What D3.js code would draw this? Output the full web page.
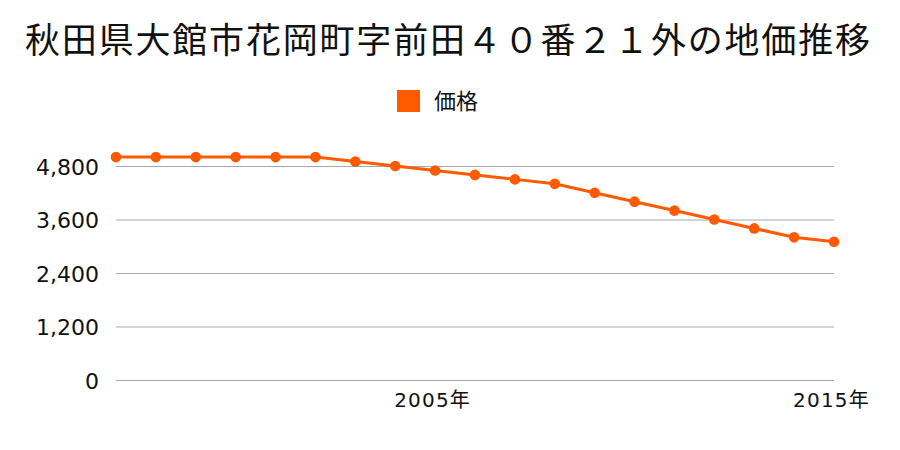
<!DOCTYPE html>
<html><head><meta charset="utf-8">
<script src="https://cdn.jsdelivr.net/npm/d3@7"></script>
<style>body{margin:0;background:#fff;} text{font-family:"Noto Sans CJK JP","Noto Sans",sans-serif;}</style>
</head><body>
<svg id="c" width="900" height="450"></svg>
<script>
const title = "秋田県大館市花岡町字前田４０番２１外の地価推移";
const seriesName = "価格";
const years = [1997,1998,1999,2000,2001,2002,2003,2004,2005,2006,2007,2008,2009,2010,2011,2012,2013,2014,2015];
const prices = [5000,5000,5000,5000,5000,5000,4900,4800,4700,4600,4500,4400,4200,4000,3800,3600,3400,3200,3100];
const yTicks = [0,1200,2400,3600,4800];
const xTickYears = [2005,2015];
const color = "#ff5a00";
const numFont = "'DejaVu Sans','Noto Sans CJK JP',sans-serif";

const svg = d3.select("#c");
const x = d3.scaleLinear().domain([1997,2015]).range([116,834]);
const y = d3.scaleLinear().domain([0,4800]).range([380,166]);

svg.append("text").attr("x",25).attr("y",53)
  .attr("font-size",35).attr("fill","#111")
  .attr("textLength",845).attr("lengthAdjust","spacing").text(title);

svg.append("rect").attr("x",397).attr("y",90).attr("width",23).attr("height",22).attr("fill",color);
svg.append("text").attr("x",434).attr("y",109).attr("font-size",22).attr("fill","#111").text(seriesName);

const yAxis = d3.axisLeft(y).tickValues(yTicks).tickSize(-718).tickFormat(d3.format(","));
const gy = svg.append("g").attr("transform","translate(116,0)").call(yAxis);
gy.select(".domain").remove();
gy.selectAll(".tick line").attr("stroke","#aaa").attr("stroke-width",1.2);
gy.selectAll(".tick text").attr("x",-17).attr("dy",8).attr("font-size",22).attr("fill","#111")
  .style("font-family",numFont);

const xAxis = d3.axisBottom(x).tickValues(xTickYears).tickSize(0).tickFormat(d=>d+"年");
const gx = svg.append("g").attr("transform","translate(0,380)").call(xAxis);
gx.select(".domain").remove();
gx.selectAll(".tick text").attr("dy",0).attr("y",27).attr("dx",-3).attr("font-size",20)
  .attr("fill","#111").style("letter-spacing","1.2px")
  .style("font-family",numFont);

const data = years.map((yr,i)=>({yr, v:prices[i]}));
svg.append("path").datum(data).attr("fill","none").attr("stroke",color).attr("stroke-width",3)
  .attr("d", d3.line().x(d=>x(d.yr)).y(d=>y(d.v)));
svg.selectAll("circle.p").data(data).join("circle").attr("class","p")
  .attr("cx",d=>x(d.yr)).attr("cy",d=>y(d.v)).attr("r",5.3).attr("fill",color);
</script>
</body></html>
